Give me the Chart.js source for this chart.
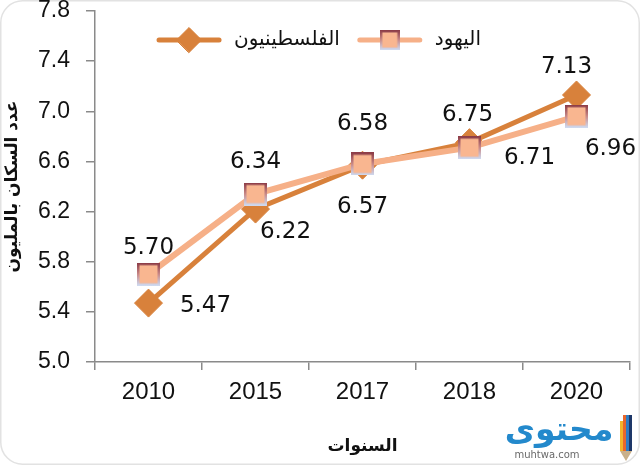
<!DOCTYPE html>
<html>
<head>
<meta charset="utf-8">
<script src="https://cdn.jsdelivr.net/npm/chart.js@4/dist/chart.umd.min.js"></script>
<style>
  html, body { margin: 0; padding: 0; background: #fff; }
</style>
</head>
<body>
<canvas id="grafik" width="640" height="465"></canvas>
<script>
// Data grafik
var tahun = ["2010", "2015", "2017", "2018", "2020"];
var nama_seri = ["الفلسطينيون", "اليهود"];
var filistin = [5.47, 6.22, 6.57, 6.75, 7.13];
var yahudi = [5.70, 6.34, 6.58, 6.71, 6.96];
var sumbu_y = { min: 5.0, max: 7.8, step: 0.4 };

// Posisi label nilai (geser dari titik), urutan sama dengan data
var geser_label = [
  [[57, 3], [30, 23], [0, 42], [-2, -28], [-10, -28]],
  [[0, -26], [0, -32], [0, -40], [60, 10], [34, 33]]
];

var warna_filistin = "#D8813B";
var warna_yahudi = "#F6B088";

// Penanda kotak ala Excel (isi peach, tepi merah tua ke biru muda)
function bikinKotak(s) {
  var c = document.createElement("canvas");
  c.width = s; c.height = s;
  var g = c.getContext("2d");
  g.fillStyle = "#F9B690";
  g.fillRect(0, 0, s, s);
  var grad = g.createLinearGradient(0, 0, 0, s);
  grad.addColorStop(0, "#8B3A45");
  grad.addColorStop(0.5, "#C98A88");
  grad.addColorStop(1, "#CFDCF3");
  g.strokeStyle = grad;
  g.lineWidth = 2.5;
  g.strokeRect(1.25, 1.25, s - 2.5, s - 2.5);
  return c;
}
var kotak_besar = bikinKotak(23);
var kotak_kecil = bikinKotak(20);

// Latar + bingkai membulat
const latarPlugin = {
  id: "latar",
  beforeDraw(chart) {
    const ctx = chart.ctx;
    ctx.save();
    ctx.fillStyle = "#fff";
    ctx.fillRect(0, 0, chart.width, chart.height);
    ctx.strokeStyle = "#e2e2e2";
    ctx.lineWidth = 1.5;
    ctx.beginPath();
    ctx.roundRect(0.75, 0.75, chart.width - 1.5, chart.height - 1.5, 22);
    ctx.stroke();
    ctx.restore();
  }
};

// Label nilai di dekat tiap titik
const labelPlugin = {
  id: "labelNilai",
  afterDatasetsDraw(chart) {
    const ctx = chart.ctx;
    ctx.save();
    ctx.font = '23px "DejaVu Sans"';
    ctx.fillStyle = "#111";
    ctx.textAlign = "center";
    ctx.textBaseline = "middle";
    chart.data.datasets.forEach(function (ds, i) {
      chart.getDatasetMeta(i).data.forEach(function (pt, j) {
        var o = geser_label[i][j];
        ctx.fillText(ds.data[j].toFixed(2), pt.x + o[0], pt.y + o[1]);
      });
    });
    ctx.restore();
  }
};

// Legenda manual: garis + penanda + teks, di dalam area grafik
const legendaPlugin = {
  id: "legendaManual",
  afterDraw(chart) {
    const ctx = chart.ctx;
    const panjangGaris = 60, jarakTeks = 15, jarakItem = 20, yLeg = 40;
    ctx.save();
    ctx.font = '20px "DejaVu Sans"';
    var lebar = [];
    var total = 0;
    chart.data.datasets.forEach(function (ds, i) {
      var w = ctx.measureText(ds.label).width;
      lebar.push(w);
      total += panjangGaris + jarakTeks + w + (i > 0 ? jarakItem : 0);
    });
    var x = chart.width / 2 - total / 2;
    chart.data.datasets.forEach(function (ds, i) {
      ctx.strokeStyle = ds.borderColor;
      ctx.lineWidth = 5;
      ctx.lineCap = "round";
      ctx.beginPath();
      ctx.moveTo(x, yLeg);
      ctx.lineTo(x + panjangGaris, yLeg);
      ctx.stroke();
      ctx.fillStyle = ds.pointBackgroundColor;
      ctx.strokeStyle = ds.pointBorderColor;
      ctx.lineWidth = 1;
      var gaya = i === 0 ? "rectRot" : kotak_kecil;
      Chart.helpers.drawPoint(ctx, { pointStyle: gaya, radius: 12.5, rotation: 0, borderWidth: 1 }, x + panjangGaris / 2, yLeg);
      ctx.fillStyle = "#111";
      ctx.textAlign = "left";
      ctx.textBaseline = "middle";
      ctx.fillText(ds.label, x + panjangGaris + jarakTeks, yLeg);
      x += panjangGaris + jarakTeks + lebar[i] + jarakItem;
    });
    ctx.restore();
  }
};

// Tanda air "محتوى"
const tandaAirPlugin = {
  id: "tandaAir",
  afterDraw(chart) {
    const ctx = chart.ctx;
    ctx.save();
    ctx.fillStyle = "#2389CC";
    ctx.font = 'bold 33px "DejaVu Sans"';
    ctx.textAlign = "center";
    ctx.textBaseline = "middle";
    ctx.fillText("محتوى", 559, 431);
    ctx.fillStyle = "#6a6a6a";
    ctx.font = '10px "DejaVu Sans"';
    ctx.fillText("muhtwa.com", 547, 455);
    var warna_pensil = ["#F3B52A", "#E8672C", "#2F7DC3", "#1E3768"];
    warna_pensil.forEach(function (w, k) {
      ctx.fillStyle = w;
      ctx.fillRect(620 + k * 3, 415 + (k === 0 ? 6 : 0), 3, 36 - (k === 0 ? 6 : 0));
    });
    ctx.fillStyle = "#c9b08a";
    ctx.beginPath();
    ctx.moveTo(620, 451);
    ctx.lineTo(632, 451);
    ctx.lineTo(626, 461);
    ctx.closePath();
    ctx.fill();
    ctx.restore();
  }
};

const data = {
  labels: tahun,
  datasets: [
    {
      label: nama_seri[0],
      data: filistin,
      order: 1,
      borderColor: warna_filistin,
      borderWidth: 5,
      pointStyle: "rectRot",
      pointRadius: 14,
      pointBackgroundColor: warna_filistin,
      pointBorderColor: warna_filistin,
      pointBorderWidth: 1
    },
    {
      label: nama_seri[1],
      data: yahudi,
      order: 0,
      borderColor: warna_yahudi,
      borderWidth: 6,
      pointStyle: kotak_besar,
      pointRadius: 12,
      pointBackgroundColor: "#F9B690",
      pointBorderColor: "#8B3A45",
      pointBorderWidth: 1
    }
  ]
};

const config = {
  type: "line",
  data: data,
  options: {
    responsive: false,
    animation: false,
    events: [],
    layout: { autoPadding: false, padding: { left: 0, right: 10, top: 0, bottom: 0 } },
    plugins: {
      legend: { display: false },
      tooltip: { enabled: false }
    },
    scales: {
      x: {
        offset: true,
        afterFit: function (scale) { scale.height = 103; },
        grid: {
          offset: true,
          drawOnChartArea: false,
          drawTicks: true,
          tickLength: 8,
          color: "#8a8a8a",
          lineWidth: 1.5
        },
        border: { display: true, color: "#8a8a8a", width: 1.5 },
        ticks: {
          color: "#111",
          padding: 8,
          font: { family: "Liberation Sans", size: 24 }
        },
        title: {
          display: true,
          text: "السنوات",
          color: "#111",
          font: { family: "DejaVu Sans", size: 17, weight: "bold" },
          padding: { top: 4, bottom: 8 }
        }
      },
      y: {
        min: sumbu_y.min,
        max: sumbu_y.max,
        afterFit: function (scale) {
          scale.width = 95;
          scale.paddingTop = 11;
        },
        grid: {
          drawOnChartArea: false,
          drawTicks: true,
          tickLength: 9,
          color: "#8a8a8a",
          lineWidth: 1.5
        },
        border: { display: true, color: "#8a8a8a", width: 1.5 },
        ticks: {
          stepSize: sumbu_y.step,
          color: "#111",
          padding: 16,
          font: { family: "Liberation Sans", size: 23 },
          callback: function (value) { return Number(value).toFixed(1); }
        },
        title: {
          display: true,
          text: "عدد السكان بالمليون",
          color: "#111",
          font: { family: "DejaVu Sans", size: 17, weight: "bold" },
          padding: { top: 2, bottom: 0 }
        }
      }
    }
  },
  plugins: [latarPlugin, labelPlugin, legendaPlugin, tandaAirPlugin]
};

const grafik = document.getElementById("grafik").getContext("2d");
const grafik_garis = new Chart(grafik, config);
</script>
</body>
</html>
